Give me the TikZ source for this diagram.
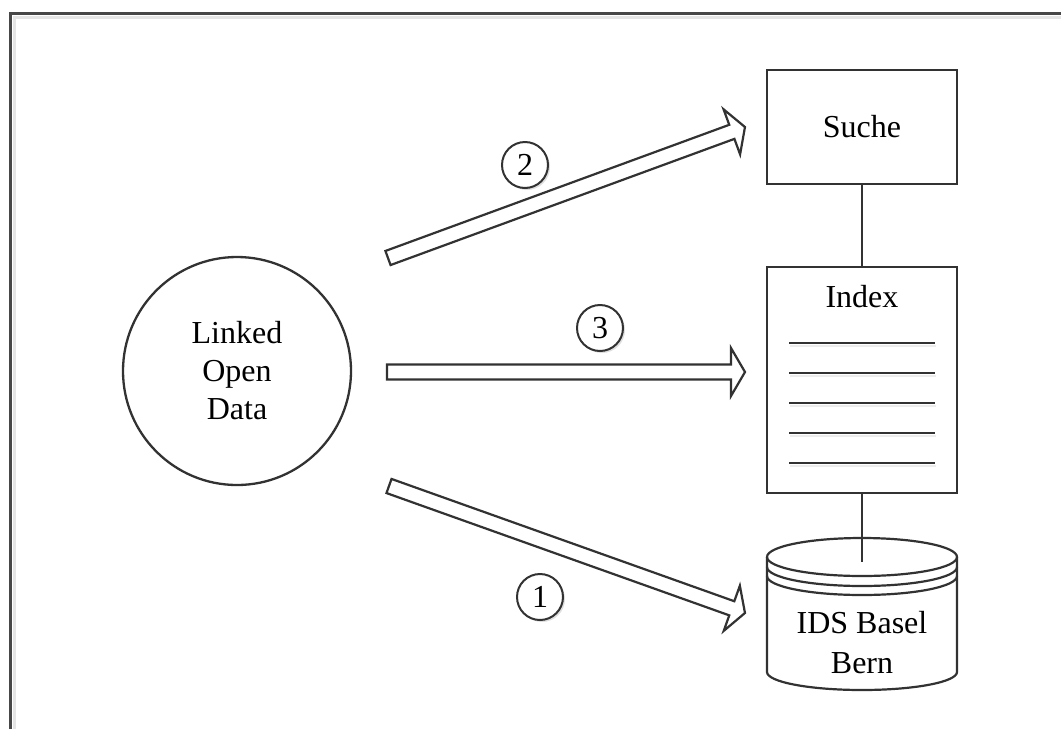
\documentclass[tikz,border=0pt]{standalone}
\usepackage{fontspec}
\setmainfont{Liberation Serif}
\usepackage{xcolor}
\usetikzlibrary{calc,positioning,shadows,backgrounds}
\pgfdeclarelayer{edgelayer}
\pgfdeclarelayer{nodelayer}
\pgfsetlayers{background,edgelayer,nodelayer,main}
\definecolor{ink}{RGB}{50,50,50}
\tikzstyle{none}=[inner sep=0mm]
\tikzstyle{lod}=[shape=circle,draw=ink,line width=2.3pt,minimum size=228pt,inner sep=0pt,align=center]
\tikzstyle{box}=[shape=rectangle,draw=ink,line width=2.3pt,minimum width=190pt,inner sep=0pt]
\tikzstyle{num}=[shape=circle,draw=ink,line width=2pt,fill=white,minimum size=46pt,inner sep=0pt,drop shadow={opacity=0.25,shadow xshift=2pt,shadow yshift=-2pt}]
\tikzstyle{fat}=[draw=ink,line width=2.2pt,line join=miter,fill=white]
\tikzstyle{link}=[draw=ink,line width=2.2pt]
\tikzstyle{frame}=[draw=ink!90,line width=3pt]
\newcommand{\fatarrow}[2]{%
	\draw[style=fat] let \p1=($(#2)-(#1)$), \n1={atan2(\y1,\x1)}, \n2={veclen(\x1,\y1)} in
		[shift={(#1)},rotate=\n1] (0pt,-7.5pt) -- ({\n2-14pt},-7.5pt) -- ({\n2-14pt},-24pt) -- (\n2,0pt)
		-- ({\n2-14pt},24pt) -- ({\n2-14pt},7.5pt) -- (0pt,7.5pt) -- cycle;}

\begin{document}
\begin{tikzpicture}[x=1pt,y=-1pt,font=\fontsize{32}{38}\selectfont]
	\useasboundingbox (0,0) rectangle (1061,729);
	% frame
	\draw[gray!20,line width=3pt] (14,729) -- (14,17) -- (1061,17);
	\draw[style=frame] (10,729) -- (10,13) -- (1061,13);
	\begin{pgfonlayer}{nodelayer}
		\node [style=lod] (lod) at (237, 371) {Linked\\Open\\Data};
		\node [style=box, minimum height=114pt] (suche) at (862, 127) {Suche};
		\node [style=box, minimum height=226pt] (index) at (862, 380) {};
		\node [style=none, below=19pt of index.north] (idxtitle) {Index};
		\node [style=none, align=center, font=\fontsize{32}{40}\selectfont] (dbtext) at (862, 643) {IDS Basel\\Bern};
		\node [style=num] (n2) at (525, 165) {2};
		\node [style=num] (n3) at (600, 328) {3};
		\node [style=num] (n1) at (540, 597) {1};
		\coordinate (dbtop) at (862, 562);
		\coordinate (t2) at (388, 258);
		\coordinate (h2) at (745, 127);
		\coordinate (t3) at (387, 372);
		\coordinate (h3) at (745, 372);
		\coordinate (t1) at (389, 486);
		\coordinate (h1) at (745, 613);
	\end{pgfonlayer}
	% index lines
	\foreach \yy in {343,373,403,433,463} {
		\draw[gray!15,line width=2pt] (790, \yy+2.5) -- (936, \yy+2.5);
		\draw[style=link] (789, \yy) -- (935, \yy);
	}
	% database
	\draw[style=link] (767, 557) -- (767, 672) arc[start angle=180, end angle=360, x radius=95pt, y radius=18pt] -- (957, 557);
	\draw[style=link] (862, 557) ellipse [x radius=95pt, y radius=19pt];
	\draw[style=link] (767, 567) arc[start angle=180, end angle=360, x radius=95pt, y radius=19pt];
	\draw[style=link] (767, 576) arc[start angle=180, end angle=360, x radius=95pt, y radius=19pt];
	\begin{pgfonlayer}{edgelayer}
		\draw[style=link] (suche) to (index);
		\draw[style=link] (index.south) to (dbtop);
		\fatarrow{t2}{h2}
		\fatarrow{t3}{h3}
		\fatarrow{t1}{h1}
	\end{pgfonlayer}
\end{tikzpicture}
\end{document}
